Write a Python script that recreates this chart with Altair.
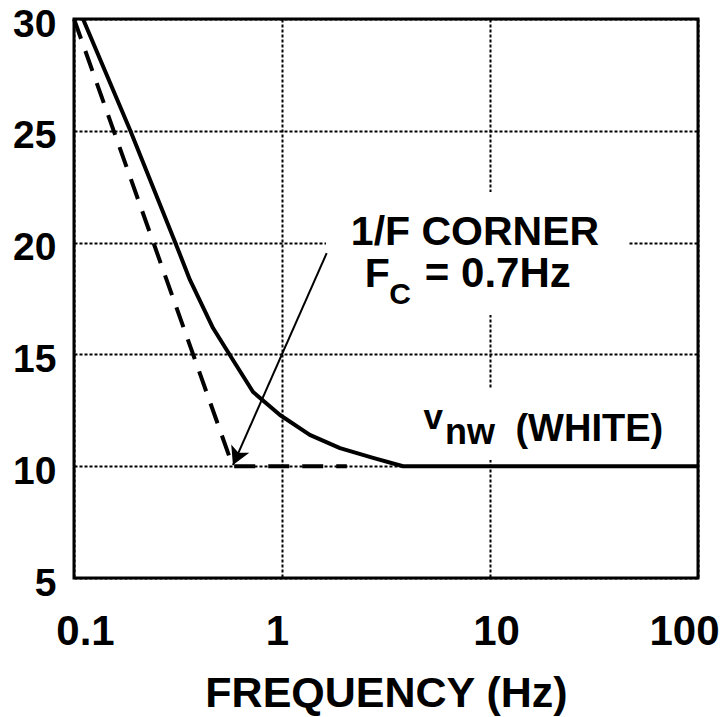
import altair as alt
import pandas as pd

# ---- data ----
solid_f = [0.1105, 0.186, 0.306, 0.361, 0.466, 0.581, 0.726, 0.978, 1.36, 1.90, 2.74, 3.82, 100]
solid_v = [30.0, 25.04, 20.03, 18.33, 16.18, 14.75, 13.32, 12.29, 11.40, 10.81, 10.37, 10.0, 10.0]

dash_f = [0.1, 0.58, 2.05]
dash_v = [30.0, 10.0, 10.0]

arrow_f = [1.64, 0.581]
arrow_v = [19.53, 10.05]

x_ticks = [0.1, 1, 10, 100]
y_ticks = [5, 10, 15, 20, 25, 30]

FONT = "Liberation Sans"

xscale = alt.Scale(type="log", domain=[0.1, 100], nice=False)
yscale = alt.Scale(domain=[5, 30], nice=False, zero=False)

x_label_offset = {
    "condition": [
        {"test": "datum.value < 0.5", "value": 11},
        {"test": "datum.value > 50", "value": -14},
        {"test": "datum.value > 0.5 && datum.value < 5", "value": -5},
    ],
    "value": 6,
}

xaxis = alt.Axis(values=x_ticks, format="~g", grid=True, gridDash=[3, 2], gridColor="black",
                 gridWidth=2, gridOpacity=1, domain=False, ticks=False, tickSize=0,
                 labelFont=FONT, labelFontWeight="bold", labelFontSize=42, labelColor="black",
                 labelPadding=33, labelFlush=False, labelOverlap=False,
                 labelOffset=x_label_offset,
                 title="FREQUENCY (Hz)", titleFont=FONT, titleFontWeight="bold",
                 titleFontSize=43, titleColor="black", titleY=94, titleBaseline="top")
yaxis = alt.Axis(values=y_ticks, grid=True, gridDash=[3, 2], gridColor="black",
                 gridWidth=2, gridOpacity=1, domain=False, ticks=False, tickSize=0,
                 labelFont=FONT, labelFontWeight="bold", labelFontSize=39, labelColor="black",
                 labelPadding=18, labelFlush=False, labelOverlap=False, labelOffset=5,
                 labelBaseline="middle", title=None)


def X(field="f"):
    return alt.X(f"{field}:Q", scale=xscale, axis=xaxis)


def Y(field="v"):
    return alt.Y(f"{field}:Q", scale=yscale, axis=yaxis)


# white boxes behind annotation texts (they interrupt the grid)
box_df = pd.DataFrame({"f": [1.627, 4.12], "f2": [46.1, 75.0],
                       "v": [16.76, 10.28], "v2": [22.26, 13.5]})
boxes = alt.Chart(box_df).mark_rect(color="white").encode(
    x=X(), x2="f2:Q", y=Y(), y2="v2:Q")

solid_df = pd.DataFrame({"f": solid_f, "v": solid_v, "o": list(range(len(solid_f)))})
solid = alt.Chart(solid_df).mark_line(color="black", strokeWidth=4, strokeJoin="round").encode(
    x=X(), y=Y(), order="o:Q")

dash_df = pd.DataFrame({"f": dash_f, "v": dash_v, "o": list(range(len(dash_f)))})
dashed = alt.Chart(dash_df).mark_line(color="black", strokeWidth=4, strokeDash=[21, 13]).encode(
    x=X(), y=Y(), order="o:Q")

arrow_df = pd.DataFrame({"f": arrow_f, "v": arrow_v, "o": [0, 1]})
arrow_line = alt.Chart(arrow_df).mark_line(color="black", strokeWidth=2).encode(
    x=X(), y=Y(), order="o:Q")

head_df = pd.DataFrame({"f": [arrow_f[1]], "v": [arrow_v[1]]})
arrow_head = alt.Chart(head_df).mark_point(
    shape="M0,0L-0.55,1L0,0.75L0.55,1Z", filled=True, color="black", opacity=1,
    size=1296, angle=204, strokeWidth=0).encode(x=X(), y=Y())


def text_layer(labels, fs, vs, size, align):
    df = pd.DataFrame({"f": fs, "v": vs, "t": labels})
    return alt.Chart(df).mark_text(font=FONT, fontWeight="bold", fontSize=size, align=align,
                                   baseline="alphabetic", color="black").encode(
        x=X(), y=Y(), text="t:N")


t_corner = text_layer(["1/F CORNER"], [8.47], [19.89], 41, "center")
t_F = text_layer(["F"], [2.50], [18.01], 41, "left")
t_C = text_layer(["C"], [3.28], [17.25], 30, "left")
t_fc = text_layer(["= 0.7Hz"], [10.9], [18.01], 42, "center")
t_v = text_layer(["v"], [4.79], [11.67], 35, "left")
t_nw = text_layer(["nw"], [6.08], [11.0], 36, "left")
t_white = text_layer(["(WHITE)"], [68.0], [11.13], 38, "right")

chart = alt.layer(boxes, dashed, solid, arrow_line, arrow_head,
                  t_corner, t_F, t_C, t_fc, t_v, t_nw, t_white).properties(
    width=624, height=559,
    autosize=alt.AutoSizeParams(type="none"),
    padding={"left": 74, "top": 19, "right": 26, "bottom": 139},
    background="white",
).configure_view(stroke="black", strokeWidth=3)

chart.save("out.html", embed_options={"renderer": "svg", "actions": False})
